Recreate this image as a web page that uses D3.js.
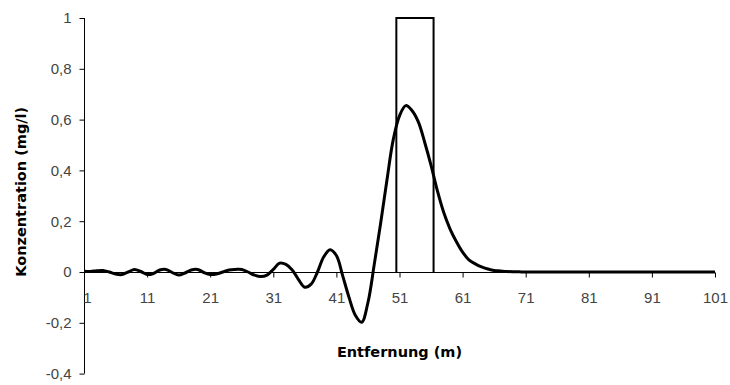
<!DOCTYPE html>
<html>
<head>
<meta charset="utf-8">
<script src="https://cdn.jsdelivr.net/npm/d3@7"></script>
<style>
  html, body { margin: 0; padding: 0; background: #fff; }
  svg { display: block; }
</style>
</head>
<body>
<svg id="chart" width="730" height="385"></svg>
<script>
// Distance along the profile (m)
const distance = d3.range(1, 102);

// Concentration at each metre (mg/l)
const concentration = [
  0.003, 0.002, 0.005, 0.006, 0.0, -0.008, -0.01, 0.0, 0.01, 0.002,
  -0.01, -0.006, 0.008, 0.01, -0.002, -0.012, -0.004, 0.008, 0.01, -0.002,
  -0.01, -0.008, 0.0, 0.008, 0.01, 0.01, 0.0, -0.012, -0.018, -0.012,
  0.01, 0.035, 0.03, 0.008, -0.03, -0.06, -0.048, 0.0, 0.06, 0.088,
  0.065, -0.015, -0.1, -0.17, -0.198, -0.12, 0.03, 0.19, 0.36, 0.52,
  0.615, 0.655, 0.635, 0.59, 0.51, 0.42, 0.32, 0.235, 0.17, 0.12,
  0.078, 0.048, 0.032, 0.02, 0.012, 0.006, 0.004, 0.002, 0.001, 0.0005,
  0, 0, 0, 0, 0, 0, 0, 0, 0, 0,
  0, 0, 0, 0, 0, 0, 0, 0, 0, 0,
  0, 0, 0, 0, 0, 0, 0, 0, 0, 0,
  0
];

// Source pulse outline (rectangle of height 1 mg/l)
const pulseX = [50.5, 50.5, 56.4, 56.4];
const pulseY = [0, 1, 1, 0];

const xTicks = [1, 11, 21, 31, 41, 51, 61, 71, 81, 91, 101];
const yTicks = [-0.4, -0.2, 0, 0.2, 0.4, 0.6, 0.8, 1];

const xTitle = "Entfernung (m)";
const yTitle = "Konzentration (mg/l)";

const svg = d3.select("#chart");
const plotL = 84, plotR = 715, plotT = 18, plotB = 373.6;

const x = d3.scaleLinear().domain([1, 101]).range([plotL, plotR]);
const y = d3.scaleLinear().domain([-0.4, 1]).range([plotB, plotT]);

const fmt = v => (Math.abs(v) < 1e-9 ? "0" : v === 1 ? "1" : d3.format(".1f")(v).replace(".", ",").replace("−", "-"));

const tickFont = "Liberation Sans, Arial, sans-serif";

// Y axis
const yAxis = svg.append("g")
  .attr("transform", `translate(${plotL + 0.5},0)`)
  .call(d3.axisLeft(y).tickValues(yTicks).tickSize(5).tickPadding(8).tickFormat(fmt));
yAxis.select(".domain").attr("d", `M0,${plotT}V${plotB}`).attr("stroke", "#000");
yAxis.selectAll(".tick line").attr("stroke", "#000");
yAxis.selectAll(".tick text")
  .attr("font-family", tickFont)
  .attr("font-size", 15).attr("fill", "#444");

// X axis at zero
const xAxis = svg.append("g")
  .attr("transform", `translate(0,${Math.round(y(0)) + 0.5})`)
  .call(d3.axisBottom(x).tickValues(xTicks).tickSize(5).tickPadding(15).tickFormat(d3.format("d")));
xAxis.select(".domain").attr("d", `M${plotL},0H${plotR}`).attr("stroke", "#000");
xAxis.selectAll(".tick line").attr("stroke", "#000");
xAxis.selectAll(".tick text")
  .attr("font-family", tickFont)
  .attr("font-size", 15).attr("fill", "#444");
xAxis.selectAll(".tick").filter(d => d === 1).select("text").attr("dx", 3);

// Pulse rectangle
const pulse = pulseX.map((d, i) => [d, pulseY[i]]);
svg.append("path")
  .datum(pulse)
  .attr("fill", "none")
  .attr("stroke", "#000")
  .attr("stroke-width", 2)
  .attr("d", d3.line().x(d => x(d[0])).y(d => y(d[1])));

// Concentration curve (smoothed line through the metre samples)
const pts = distance.map((d, i) => [d, concentration[i]]);
svg.append("path")
  .datum(pts)
  .attr("fill", "none")
  .attr("stroke", "#000")
  .attr("stroke-width", 3)
  .attr("stroke-linejoin", "round")
  .attr("d", d3.line().curve(d3.curveCatmullRom.alpha(0.5)).x(d => x(d[0])).y(d => y(d[1])));

// Axis titles
svg.append("text")
  .attr("x", (plotL + plotR) / 2)
  .attr("y", 357)
  .attr("text-anchor", "middle")
  .attr("font-family", "DejaVu Sans, Verdana, sans-serif")
  .attr("font-weight", "bold")
  .attr("font-size", 14.5)
  .attr("fill", "#000")
  .text(xTitle);

svg.append("text")
  .attr("transform", `translate(26,${(plotT + plotB) / 2 - 4}) rotate(-90)`)
  .attr("text-anchor", "middle")
  .attr("font-family", "DejaVu Sans, Verdana, sans-serif")
  .attr("font-weight", "bold")
  .attr("font-size", 14.5)
  .attr("fill", "#000")
  .text(yTitle);
</script>
</body>
</html>
